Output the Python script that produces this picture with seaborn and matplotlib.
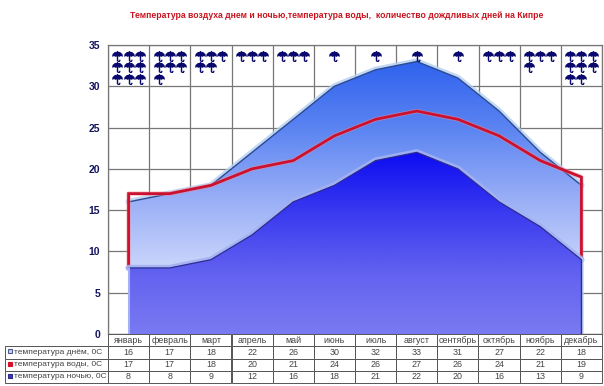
import matplotlib
matplotlib.use("Agg")
import matplotlib.pyplot as plt
from matplotlib.colors import LinearSegmentedColormap
from matplotlib.path import Path
import numpy as np
import pandas as pd
import seaborn as sns

TITLE = "Температура воздуха днем и ночью,температура воды,  количество дождливых дней на Кипре"
MONTHS = ["январь", "февраль", "март", "апрель", "май", "июнь", "июль", "август",
          "сентябрь", "октябрь", "ноябрь", "декабрь"]
DAY_TEMP = [16, 17, 18, 22, 26, 30, 32, 33, 31, 27, 22, 18]
WATER_TEMP = [17, 17, 18, 20, 21, 24, 26, 27, 26, 24, 21, 19]
NIGHT_TEMP = [8, 8, 9, 12, 16, 18, 21, 22, 20, 16, 13, 9]
RAIN_DAYS = [9, 7, 5, 3, 3, 1, 1, 1, 1, 3, 4, 8]
ROW_LABELS = ["температура днём, 0С", "температура воды, 0С", "температура ночью, 0С"]

W, H = 604, 386
sns.set_theme(style="white")
plt.rcParams["font.family"] = ["Liberation Sans", "DejaVu Sans"]

df = pd.DataFrame({"month": range(12), "day": DAY_TEMP, "water": WATER_TEMP, "night": NIGHT_TEMP})

# umbrella icon: dome plus a hooked handle
UMBRELLA = Path(
    [(-1, -0.05), (-0.9, 0.45), (-0.5, 0.8), (-0.1, 0.88), (-0.1, 1), (0.1, 1), (0.1, 0.88), (0.5, 0.8),
     (0.9, 0.45), (1, -0.05), (0.62, 0.08), (0.33, -0.08), (0.13, 0.05), (0.13, -0.74), (0.28, -0.78),
     (0.34, -0.58), (0.58, -0.62), (0.44, -1), (0.06, -1), (-0.13, -0.8), (-0.13, 0.05), (-0.33, -0.08),
     (-0.62, 0.08), (-1, -0.05)],
    closed=True,
)


def gradient_area(ax, y, top, colors, z):
    poly = ax.fill_between(df["month"], 0, y, color="none", zorder=z)
    cmap = LinearSegmentedColormap.from_list("g", colors)
    grad = np.linspace(0, 1, 256).reshape(-1, 1)
    im = ax.imshow(grad, extent=[0, 11, 0, top], aspect="auto", cmap=cmap, zorder=z,
                   interpolation="bilinear")
    im.set_clip_path(poly.get_paths()[0], transform=ax.transData)


fig = plt.figure(figsize=(W / 100, H / 100), dpi=100, facecolor="white")
ax = fig.add_axes([108 / W, 1 - 334 / H, 494 / W, 289 / H])

gradient_area(ax, df["day"], 33, ["#2f62ee", "#5c85f2", "#98aef6", "#c8d4fb", "#e0e7fd"], 2)
sns.lineplot(data=df, x="month", y="day", color="#b5cff2", lw=4.5, alpha=0.8, ax=ax, zorder=1.5)
sns.lineplot(data=df, x="month", y="day", color="#2c4a90", lw=1, ax=ax, zorder=2.2)

# water series is an outlined area, the night area hides its lower part
water_x = [0, *df["month"], 11]
water_y = [NIGHT_TEMP[0], *WATER_TEMP, NIGHT_TEMP[-1]]
ax.plot(water_x, water_y, color="#f08a90", lw=3.2, alpha=0.5, zorder=2.9)
ax.plot(water_x, water_y, color="#cc1030", lw=2, zorder=3, solid_joinstyle="miter")

sns.lineplot(data=df, x="month", y="night", color="#a3b2f2", lw=4.5, alpha=0.9, ax=ax, zorder=3.5)
ax.plot([11, 11], [0, NIGHT_TEMP[-1]], color="#b5cff2", lw=4, alpha=0.8, zorder=3.5)
gradient_area(ax, df["night"], 22, ["#0c0cf2", "#3a3af0", "#6262f0", "#7a7af2"], 4)
sns.lineplot(data=df, x="month", y="night", color="#2c2c90", lw=0.9, ax=ax, zorder=4.2)
ax.plot([11, 11], [0, NIGHT_TEMP[-1]], color="#2c2c90", lw=1, zorder=4.2)
ax.plot([0, 0], [0, NIGHT_TEMP[0]], color="#a3b2f2", lw=1.5, zorder=4.2)

rain_x, rain_y = [], []
for i, n in enumerate(RAIN_DAYS):
    for k in range(n):
        col, row = k % 3, k // 3
        rain_x.append(i + ((col - 1) * 0.27 if n > 1 else 0))
        rain_y.append(33.7 - row * 1.42)
ax.scatter(rain_x, rain_y, marker=UMBRELLA, s=62, color="#0a0a6e", linewidths=0, zorder=6)

ax.set_xlim(-0.5, 11.5)
ax.set_ylim(0, 35)
ax.set_xticks(np.arange(-0.5, 12, 1))
ax.set_xticklabels([])
ax.set_yticks(range(0, 36, 5))
ax.set_xlabel("")
ax.set_ylabel("")
ax.grid(True, color="#777777", lw=0.9, zorder=0)
ax.set_axisbelow(True)
ax.tick_params(axis="y", length=2.5, width=0.9, color="#555555", pad=3,
               labelsize=7.5, labelcolor="#14145e")
ax.tick_params(axis="x", length=0)
for lab in ax.get_yticklabels():
    lab.set_fontweight("bold")
for s in ax.spines.values():
    s.set_color("#777777")
    s.set_linewidth(0.9)

fig.text(337 / W, 1 - 15 / H, TITLE, color="#c8141e", fontsize=6.2, fontweight="bold",
         ha="center", va="center")

# data table under the plot
tax = fig.add_axes([5 / W, 1 - 383 / H, 597 / W, 49 / H])
tax.axis("off")
rows = [[""] + MONTHS] + [[lab] + [str(v) for v in vals]
                          for lab, vals in zip(ROW_LABELS, [DAY_TEMP, WATER_TEMP, NIGHT_TEMP])]
col_w = [103 / 597] + [494 / 597 / 12] * 12
tb = tax.table(cellText=rows, colWidths=col_w, bbox=[0, 0, 1, 1], cellLoc="center")
tb.auto_set_font_size(False)
for (r, c), cell in tb.get_celld().items():
    cell.set_linewidth(0.7)
    cell.set_edgecolor("#555555")
    cell.get_text().set_fontsize(6.4)
    cell.get_text().set_color("#444444")
    if r == 0 and c == 0:
        cell.set_visible(False)
    if c == 0 and r > 0:
        cell.get_text().set_ha("left")
        cell.get_text().set_fontsize(6.0)
        cell.PAD = 0.09

tax.set_xlim(0, 597)
tax.set_ylim(49, 0)
marker_y = [17, 29.5, 42]
for y, face, edge in zip(marker_y, ["#c9d3f5", "#d8102a", "#3a3ab0"], ["#4a5a90", "#d8102a", "#2c2c90"]):
    tax.plot(5, y, marker="s", ms=3.5, mfc=face, mec=edge, mew=0.8, zorder=10, clip_on=False)

fig.savefig("out.png", dpi=100)
